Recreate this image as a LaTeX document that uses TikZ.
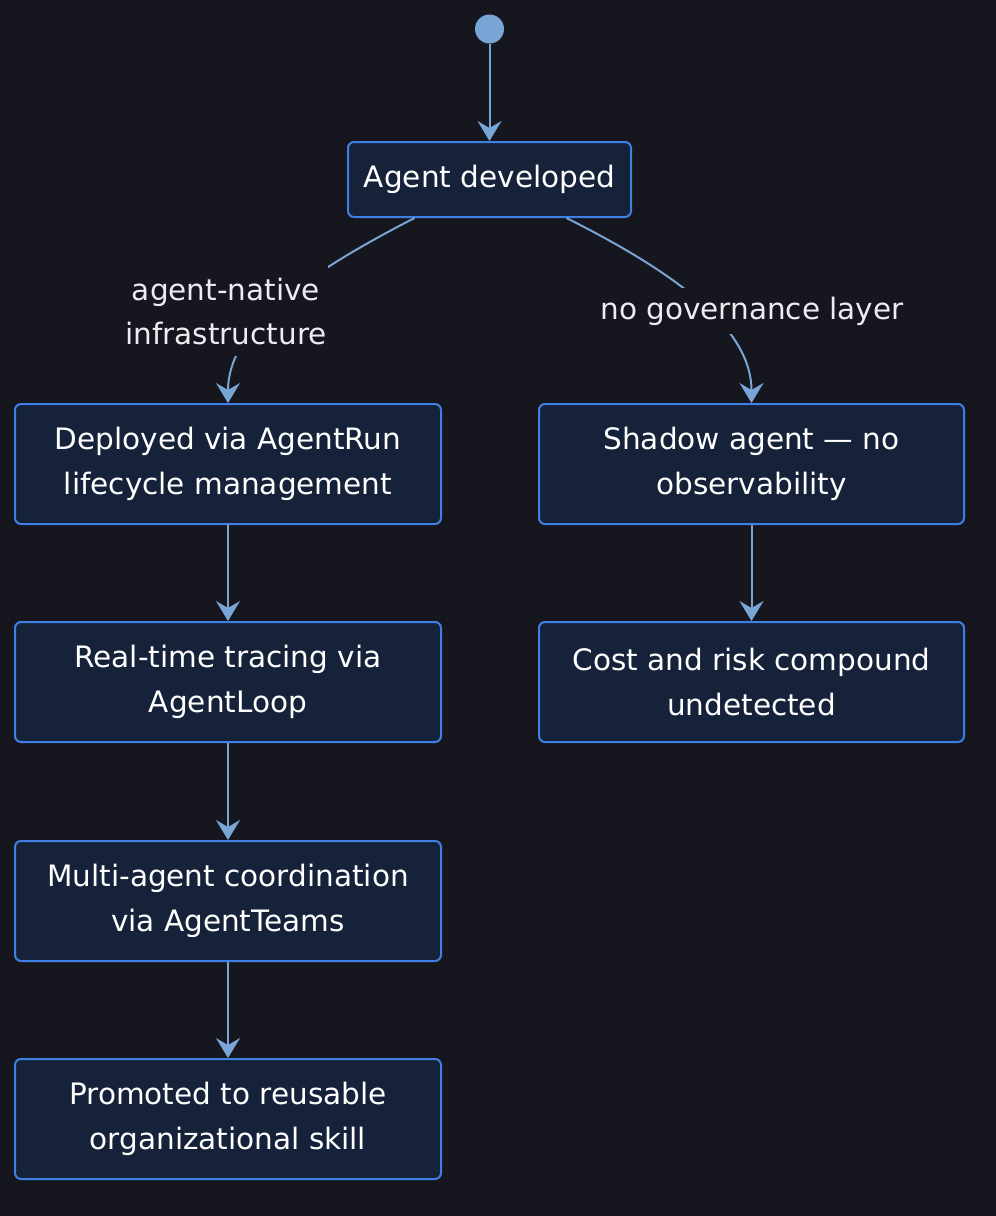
\documentclass[tikz,border=0pt]{standalone}
\usepackage{fontspec}
\setmainfont{DejaVu Sans}
\usetikzlibrary{arrows.meta}
\definecolor{bg}{HTML}{16161F}
\definecolor{boxfill}{HTML}{162239}
\definecolor{boxline}{HTML}{3F80E4}
\definecolor{edgecol}{HTML}{79A4D6}
\definecolor{lbltext}{HTML}{ECECF2}
\tikzset{
  statebox/.style={draw=boxline, fill=boxfill, line width=2pt, rounded corners=6pt,
    align=center, text=white, inner sep=0pt, font=\fontsize{29.5}{44.5}\selectfont},
  bigbox/.style={statebox, minimum width=426pt, minimum height=120pt},
  flow/.style={draw=edgecol, line width=2pt, -{Stealth[length=20pt,width=24pt,inset=7pt]}},
  edgelabel/.style={fill=bg, text=lbltext, align=center, inner sep=0pt,
    font=\fontsize{29.5}{44}\selectfont},
}
\begin{document}
\begin{tikzpicture}[x=1pt,y=-1pt]
\fill[bg] (0,0) rectangle (996,1216);
\useasboundingbox (0,0) rectangle (996,1216);

\node[circle, fill=edgecol, minimum size=29pt, inner sep=0pt] (start) at (489.5,29) {};
\node[statebox, minimum width=283pt, minimum height=75pt] (agent) at (489.5,179.5) {Agent developed};

\node[bigbox] (deploy) at (228,464) {Deployed via AgentRun\\lifecycle management};
\node[bigbox] (trace) at (228,682) {Real-time tracing via\\AgentLoop};
\node[bigbox] (multi) at (228,901) {Multi-agent coordination\\via AgentTeams};
\node[bigbox] (promo) at (228,1119) {Promoted to reusable\\organizational skill};

\node[bigbox, minimum width=425pt] (shadow) at (751.5,464) {Shadow agent — no\\observability};
\node[bigbox, minimum width=425pt] (cost) at (751.5,682) {Cost and risk compound\\undetected};

\draw[flow] (start) -- (agent);
\draw[flow] ([xshift=-75pt]agent.south) .. controls (300,277) and (228,330) .. (deploy.north);
\draw[flow] ([xshift=77pt]agent.south) .. controls (680,275) and (751.5,330) .. (shadow.north);
\draw[flow] (deploy) -- (trace);
\draw[flow] (trace) -- (multi);
\draw[flow] (multi) -- (promo);
\draw[flow] (shadow) -- (cost);

\node[edgelabel, minimum height=90pt, minimum width=204pt] (lblA) at (226,311) {agent-native\\infrastructure};
\node[edgelabel, minimum height=46pt, minimum width=306pt] (lblB) at (752,311) {no governance layer};
\end{tikzpicture}
\end{document}
